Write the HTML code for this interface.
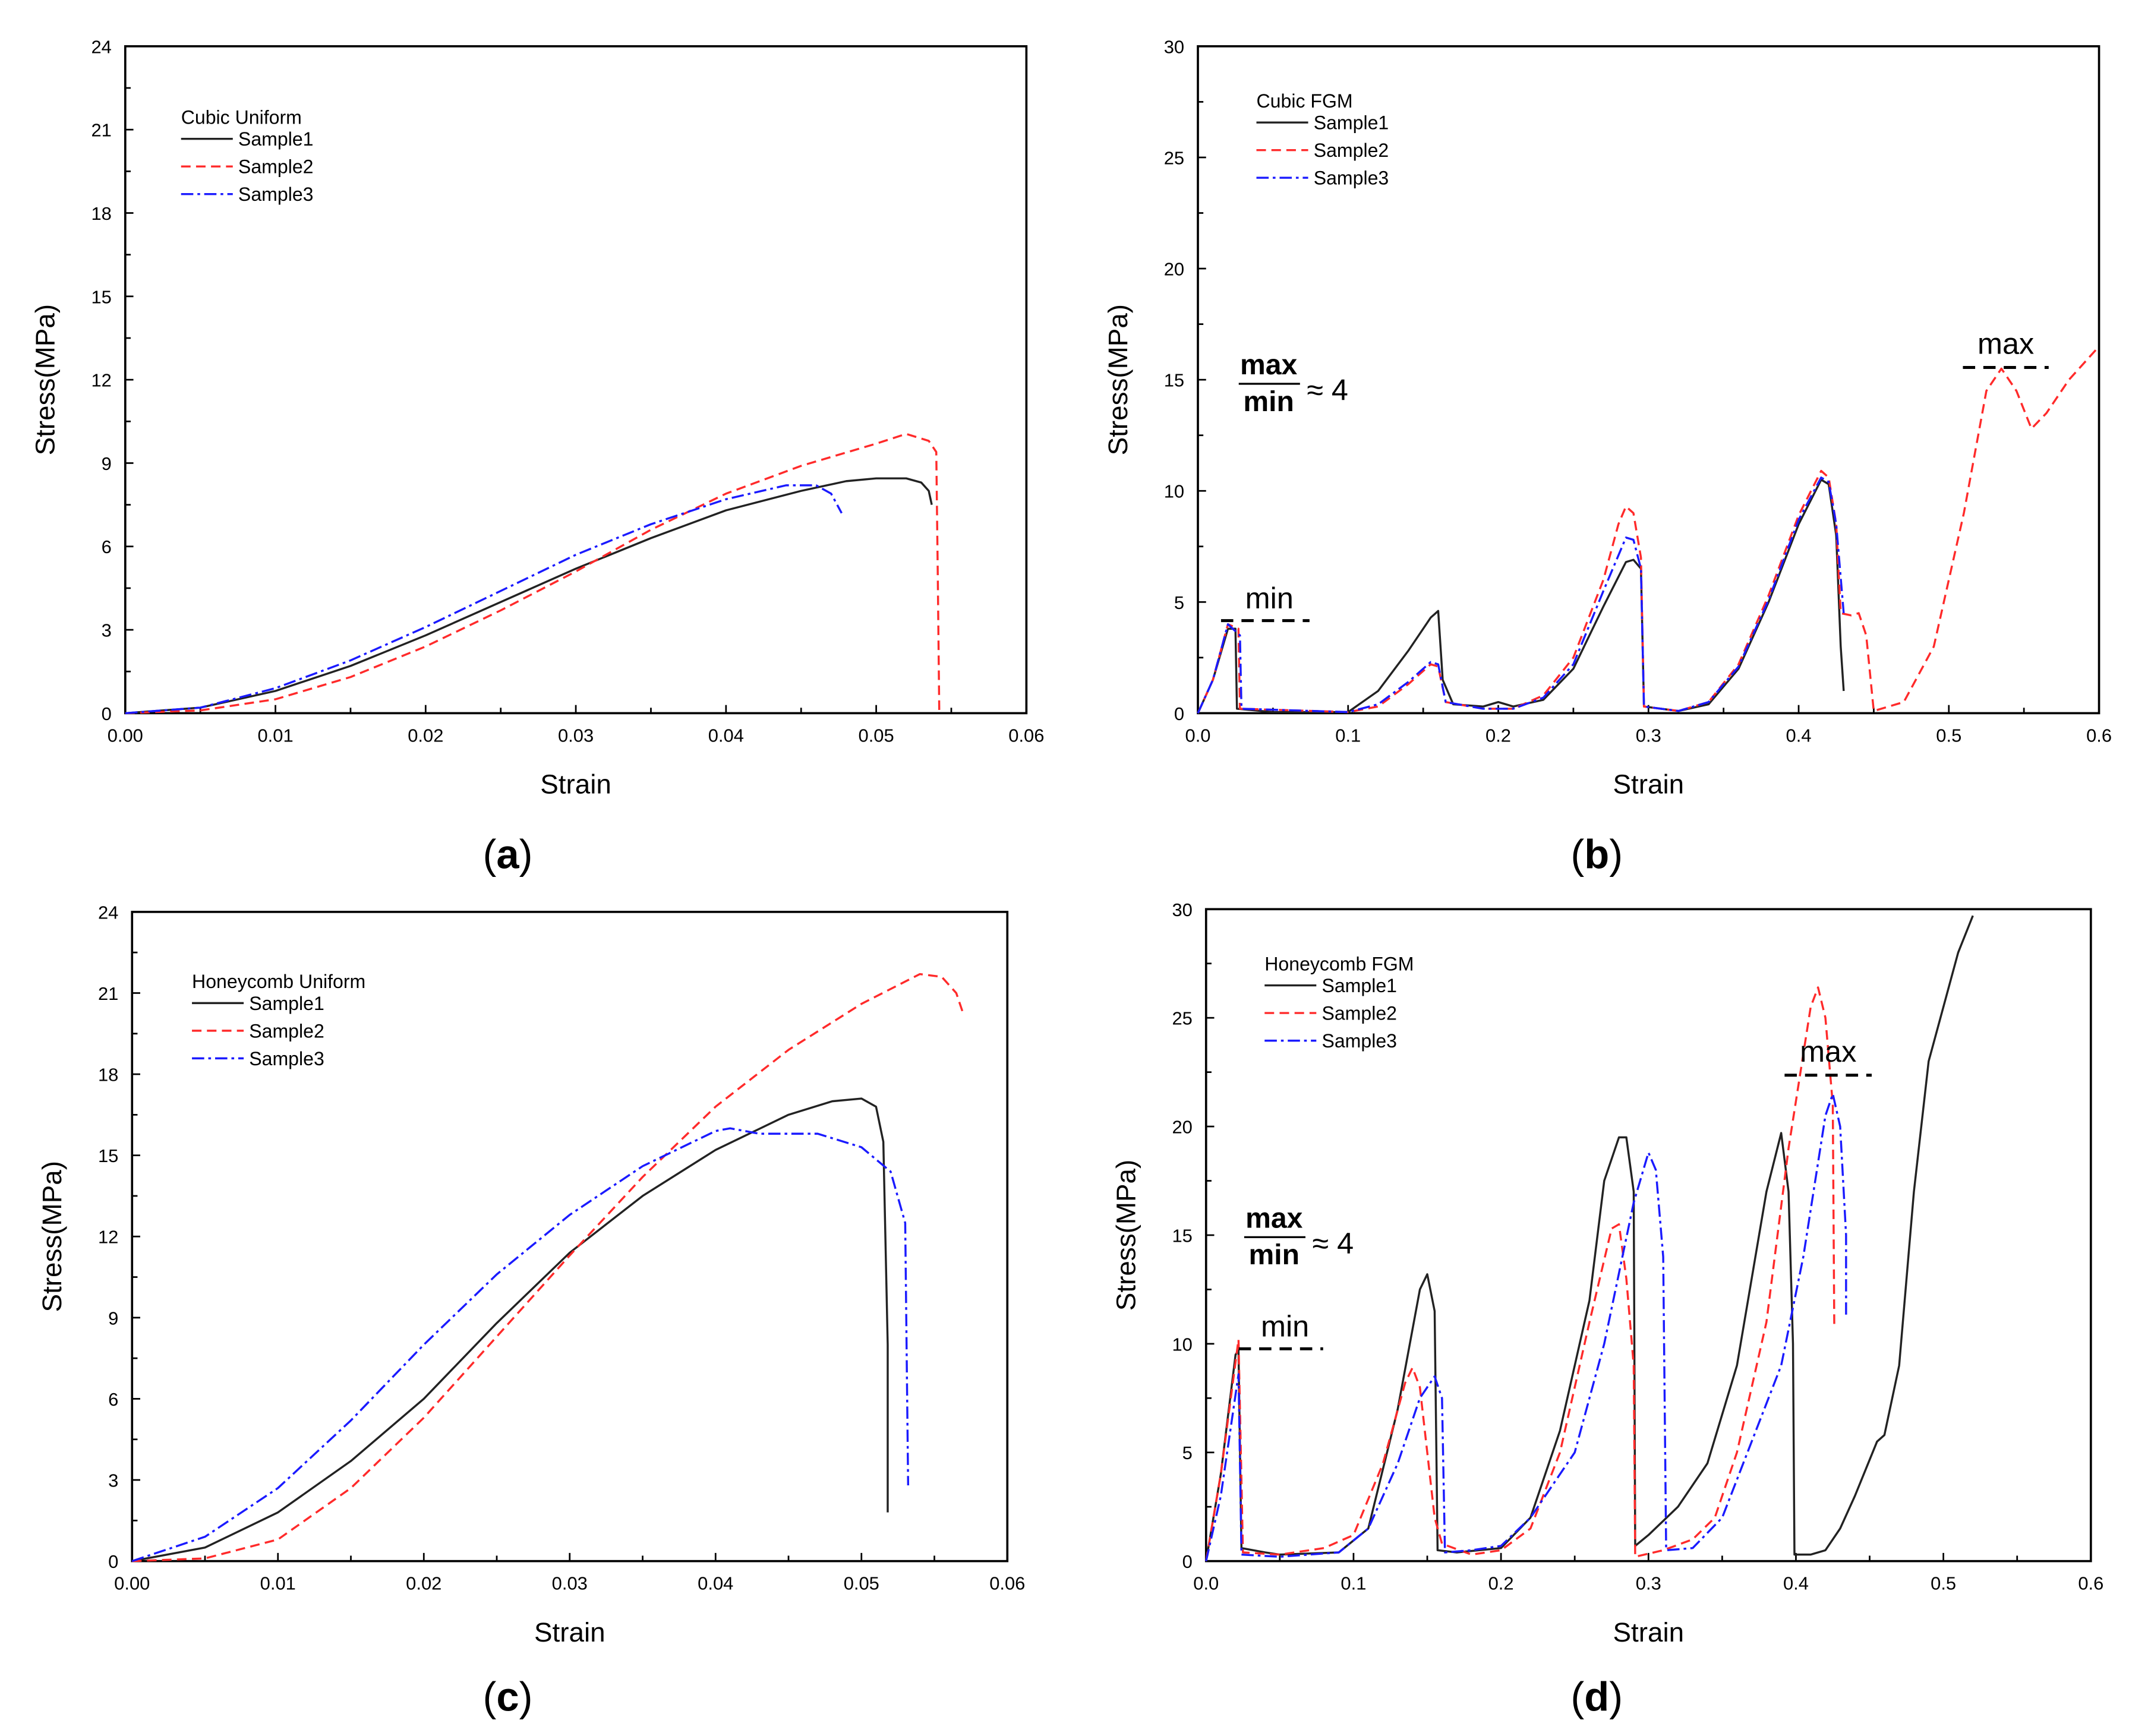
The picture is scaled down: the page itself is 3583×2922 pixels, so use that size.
<!DOCTYPE html>
<html><head><meta charset="utf-8"><style>
html,body{margin:0;padding:0;background:#fff}
svg{display:block}
text{font-family:"Liberation Sans",sans-serif}
</style></head><body>
<svg id="fig" width="3583" height="2922" viewBox="0 0 1564 1275.5" xmlns="http://www.w3.org/2000/svg">
<rect x="0" y="0" width="1564" height="1275.5" fill="#fff"/>
</svg>
<script>
// ---- data ----
const aS1x=[0,0.005,0.01,0.015,0.02,0.025,0.03,0.035,0.04,0.045,0.048,0.05,0.052,0.053,0.0535,0.0537];
const aS1y=[0,0.2,0.8,1.7,2.8,4.0,5.2,6.3,7.3,8.0,8.35,8.45,8.45,8.3,8.0,7.5];
const aS2x=[0,0.005,0.01,0.015,0.02,0.025,0.03,0.035,0.04,0.045,0.05,0.052,0.0535,0.054,0.0541,0.0542];
const aS2y=[0,0.1,0.5,1.3,2.4,3.7,5.1,6.6,7.9,8.9,9.7,10.05,9.8,9.4,5,0];
const aS3x=[0,0.005,0.01,0.015,0.02,0.025,0.03,0.035,0.04,0.044,0.046,0.047,0.0477];
const aS3y=[0,0.2,0.9,1.9,3.1,4.4,5.7,6.8,7.7,8.2,8.2,7.9,7.2];

const bS1x=[0,0.01,0.02,0.025,0.026,0.05,0.1,0.12,0.14,0.155,0.16,0.163,0.17,0.19,0.2,0.21,0.23,0.25,0.27,0.285,0.29,0.295,0.297,0.32,0.34,0.36,0.38,0.4,0.415,0.42,0.425,0.428,0.43];
const bS1y=[0,1.5,3.8,3.8,0.2,0.05,0.05,1.0,2.8,4.3,4.6,1.5,0.4,0.3,0.5,0.3,0.6,2.0,4.8,6.8,6.9,6.5,0.3,0.1,0.4,2.0,5.0,8.5,10.5,10.3,8.0,3,1.0];
const bS2x=[0,0.01,0.02,0.027,0.028,0.1,0.12,0.14,0.155,0.16,0.165,0.19,0.21,0.23,0.25,0.27,0.28,0.285,0.29,0.295,0.297,0.32,0.34,0.36,0.38,0.4,0.415,0.42,0.425,0.428,0.435,0.44,0.445,0.45,0.47,0.49,0.51,0.525,0.535,0.545,0.555,0.565,0.58,0.6];
const bS2y=[0,1.5,4.0,3.8,0.2,0.05,0.3,1.3,2.2,2.1,0.5,0.2,0.2,0.8,2.5,6.0,8.5,9.3,9.0,7.0,0.3,0.1,0.5,2.2,5.3,8.9,10.9,10.6,8.5,4.5,4.4,4.5,3.5,0.1,0.5,3,9,14.5,15.5,14.5,12.8,13.5,15,16.5];
const bS3x=[0,0.01,0.02,0.028,0.029,0.1,0.12,0.14,0.155,0.16,0.165,0.19,0.21,0.23,0.25,0.27,0.285,0.29,0.295,0.297,0.32,0.34,0.36,0.38,0.4,0.415,0.42,0.425,0.43];
const bS3y=[0,1.5,4.0,3.5,0.2,0.05,0.4,1.4,2.3,2.2,0.5,0.2,0.2,0.7,2.2,5.5,7.9,7.8,6.5,0.3,0.1,0.5,2.1,5.1,8.7,10.6,10.4,8.5,4.5];

const cS1x=[0,0.005,0.01,0.015,0.02,0.025,0.03,0.035,0.04,0.045,0.048,0.05,0.051,0.0515,0.0518,0.0518];
const cS1y=[0,0.5,1.8,3.7,6.0,8.8,11.4,13.5,15.2,16.5,17.0,17.1,16.8,15.5,8,1.8];
const cS2x=[0,0.005,0.01,0.015,0.02,0.025,0.03,0.035,0.04,0.045,0.05,0.054,0.0555,0.0565,0.057];
const cS2y=[0,0.1,0.8,2.7,5.3,8.3,11.3,14.2,16.8,18.9,20.6,21.7,21.6,21,20.2];
const cS3x=[0,0.005,0.01,0.015,0.02,0.025,0.03,0.035,0.04,0.041,0.043,0.047,0.05,0.052,0.053,0.0532];
const cS3y=[0,0.9,2.7,5.2,8.0,10.6,12.8,14.6,15.9,16.0,15.8,15.8,15.3,14.4,12.5,2.8];

const dS1x=[0,0.01,0.02,0.022,0.024,0.04,0.05,0.09,0.11,0.13,0.145,0.15,0.155,0.157,0.17,0.2,0.22,0.24,0.26,0.27,0.28,0.285,0.29,0.291,0.3,0.32,0.34,0.36,0.38,0.39,0.395,0.398,0.399,0.41,0.42,0.43,0.44,0.455,0.46,0.47,0.48,0.49,0.51,0.52];
const dS1y=[0,4,9.5,9.7,0.6,0.4,0.3,0.4,1.5,7,12.5,13.2,11.5,0.5,0.4,0.6,2,6,12,17.5,19.5,19.5,17,0.7,1.2,2.5,4.5,9,17,19.7,17,10,0.3,0.3,0.5,1.5,3,5.5,5.8,9,17,23,28,29.7];
const dS2x=[0,0.01,0.022,0.025,0.05,0.08,0.1,0.12,0.135,0.14,0.145,0.15,0.155,0.16,0.18,0.2,0.22,0.24,0.26,0.275,0.28,0.285,0.29,0.291,0.31,0.33,0.345,0.36,0.38,0.395,0.41,0.415,0.42,0.425,0.426];
const dS2y=[0,4,10.2,0.4,0.3,0.6,1.2,4.5,8.2,8.9,8,5,2,0.8,0.3,0.5,1.5,5,11,15.3,15.5,13,9,0.2,0.5,1,2,5,11,19,25.5,26.4,25,21,10.8];
const dS3x=[0,0.01,0.022,0.024,0.05,0.09,0.11,0.13,0.145,0.155,0.16,0.162,0.18,0.2,0.22,0.25,0.27,0.29,0.3,0.305,0.31,0.312,0.33,0.35,0.37,0.39,0.405,0.42,0.425,0.43,0.434,0.434];
const dS3y=[0,3,8.6,0.3,0.2,0.4,1.5,4.5,7.5,8.5,7.5,0.4,0.5,0.7,2,5,10,16.5,18.8,18,14,0.5,0.6,2,5.5,9,14,20.5,21.5,20,15,11.2];

const xTicksA=["0.00","0.01","0.02","0.03","0.04","0.05","0.06"];
const yTicksA=["0","3","6","9","12","15","18","21","24"];
const xTicksB=["0.0","0.1","0.2","0.3","0.4","0.5","0.6"];
const yTicksB=["0","5","10","15","20","25","30"];

const NS="http://www.w3.org/2000/svg";
const svg=document.getElementById('fig');
function mk(tag,attrs,parent,txt){const e=document.createElementNS(NS,tag);for(const k in attrs)e.setAttribute(k,attrs[k]);if(txt!==undefined)e.textContent=txt;(parent||svg).appendChild(e);return e;}
const styles={s1:{stroke:'#222',dash:''},s2:{stroke:'#ff2a2a',dash:'7,4'},s3:{stroke:'#1a1aff',dash:'9,3,2,3'}};

function panel(p){
  const g=mk('g',{});
  
  
  const X=v=>p.x0+(v-p.xmin)/(p.xmax-p.xmin)*(p.x1-p.x0);
  const Y=v=>p.y1-(v-p.ymin)/(p.ymax-p.ymin)*(p.y1-p.y0);
  const box=mk('rect',{x:p.x0,y:p.y0,width:p.x1-p.x0,height:p.y1-p.y0,fill:'none',stroke:'#000','stroke-width':1.6},g);
  
  
  const nx=p.xt.length-1, ny=p.yt.length-1;
  for(let i=0;i<=nx*2;i++){const v=p.xmin+(p.xmax-p.xmin)*i/(nx*2);const L=i%2?4:6;
    mk('line',{x1:X(v),x2:X(v),y1:p.y1,y2:p.y1-L,stroke:'#000','stroke-width':1.2},g);
    if(i%2==0){const t=mk('text',{x:X(v),y:p.y1+21,'font-size':13.5,'text-anchor':'middle'},g,p.xt[i/2]);
      
      }}
  for(let i=0;i<=ny*2;i++){const v=p.ymin+(p.ymax-p.ymin)*i/(ny*2);const L=i%2?4:6;
    mk('line',{x1:p.x0,x2:p.x0+L,y1:Y(v),y2:Y(v),stroke:'#000','stroke-width':1.2},g);
    if(i%2==0){const t=mk('text',{x:p.x0-10,y:Y(v)+5,'font-size':13.5,'text-anchor':'end'},g,p.yt[i/2]);
      
      }}
  const xt=mk('text',{x:(p.x0+p.x1)/2,y:p.y1+59,'font-size':20,'text-anchor':'middle'},g,'Strain');
  
  
  const yx=p.x0-52, yy=(p.y0+p.y1)/2;
  const yt=mk('text',{x:yx,y:yy,'font-size':20,'text-anchor':'middle',transform:`rotate(-90 ${yx} ${yy})`},g,'Stress(MPa)');
  
  
  p.series.forEach((s,k)=>{
    const st=styles['s'+(k+1)];
    const d=s.x.map((v,i)=>(i?'L':'M')+X(v).toFixed(2)+','+Y(s.y[i]).toFixed(2)).join(' ');
    const path=mk('path',{d:d,fill:'none',stroke:st.stroke,'stroke-width':1.5,'stroke-dasharray':st.dash,'stroke-linejoin':'round'},g);
    
    
  });
  const lg=mk('g',{},g);
  
  
  mk('text',{x:p.lx,y:p.ly,'font-size':14},lg,p.title);
  ['Sample1','Sample2','Sample3'].forEach((n,k)=>{const st=styles['s'+(k+1)];const yy=p.ly+16+20.3*k;
    const ln=mk('line',{x1:p.lx,x2:p.lx+38,y1:yy-5,y2:yy-5,stroke:st.stroke,'stroke-width':1.5,'stroke-dasharray':st.dash},lg);
    
    
    mk('text',{x:p.lx+42,y:yy,'font-size':14},lg,n);});
  const pl=mk('text',{x:p.lab[0],y:p.lab[1],'font-size':30,'text-anchor':'middle','font-family':'Liberation Serif,serif'},g);
  
  
  mk('tspan',{},pl,'(');mk('tspan',{'font-weight':'bold'},pl,p.letter);mk('tspan',{},pl,')');
  return g;
}
panel({name:'panel-a',x0:92,x1:754,y0:34,y1:524,xmin:0,xmax:0.06,ymin:0,ymax:24,xt:xTicksA,yt:yTicksA,title:'Cubic Uniform',lx:133,ly:91,lab:[373,638],letter:'a',
  series:[{x:aS1x,y:aS1y},{x:aS2x,y:aS2y},{x:aS3x,y:aS3y}]});
panel({name:'panel-b',x0:880,x1:1542,y0:34,y1:524,xmin:0,xmax:0.6,ymin:0,ymax:30,xt:xTicksB,yt:yTicksB,title:'Cubic FGM',lx:923,ly:79,lab:[1173,638],letter:'b',
  series:[{x:bS1x,y:bS1y},{x:bS2x,y:bS2y},{x:bS3x,y:bS3y}]});
panel({name:'panel-c',x0:97,x1:740,y0:670,y1:1147,xmin:0,xmax:0.06,ymin:0,ymax:24,xt:xTicksA,yt:yTicksA,title:'Honeycomb Uniform',lx:141,ly:726,lab:[373,1257],letter:'c',
  series:[{x:cS1x,y:cS1y},{x:cS2x,y:cS2y},{x:cS3x,y:cS3y}]});
panel({name:'panel-d',x0:886,x1:1536,y0:668,y1:1147,xmin:0,xmax:0.6,ymin:0,ymax:30,xt:xTicksB,yt:yTicksB,title:'Honeycomb FGM',lx:929,ly:713,lab:[1173,1257],letter:'d',
  series:[{x:dS1x,y:dS1y},{x:dS2x,y:dS2y},{x:dS3x,y:dS3y}]});

function annot(n,minx,miny,minx2,maxx,maxy,maxx2,fx,fy){
  const g=mk('g',{});
  
  
  mk('text',{x:(minx+minx2)/2+3,y:miny-9,'font-size':22,'text-anchor':'middle'},g,'min');
  mk('line',{x1:minx,x2:minx2,y1:miny,y2:miny,stroke:'#000','stroke-width':2.2,'stroke-dasharray':'9,6'},g);
  mk('text',{x:(maxx+maxx2)/2,y:maxy-10,'font-size':22,'text-anchor':'middle'},g,'max');
  mk('line',{x1:maxx,x2:maxx2,y1:maxy,y2:maxy,stroke:'#000','stroke-width':2.2,'stroke-dasharray':'9,6'},g);
  mk('text',{x:fx+22,y:fy-10,'font-size':21,'font-weight':'bold','text-anchor':'middle','font-family':'Liberation Serif,serif'},g,'max');
  mk('line',{x1:fx,x2:fx+45,y1:fy-3,y2:fy-3,stroke:'#000','stroke-width':1.4},g);
  mk('text',{x:fx+22,y:fy+17,'font-size':21,'font-weight':'bold','text-anchor':'middle','font-family':'Liberation Serif,serif'},g,'min');
  mk('text',{x:fx+50,y:fy+9,'font-size':22},g,'≈ 4');
}
annot('annotation-b',897,456,962,1442,270,1505,910,285);
annot('annotation-d',910,991,972,1311,790,1375,914,912);
</script>
</body></html>
